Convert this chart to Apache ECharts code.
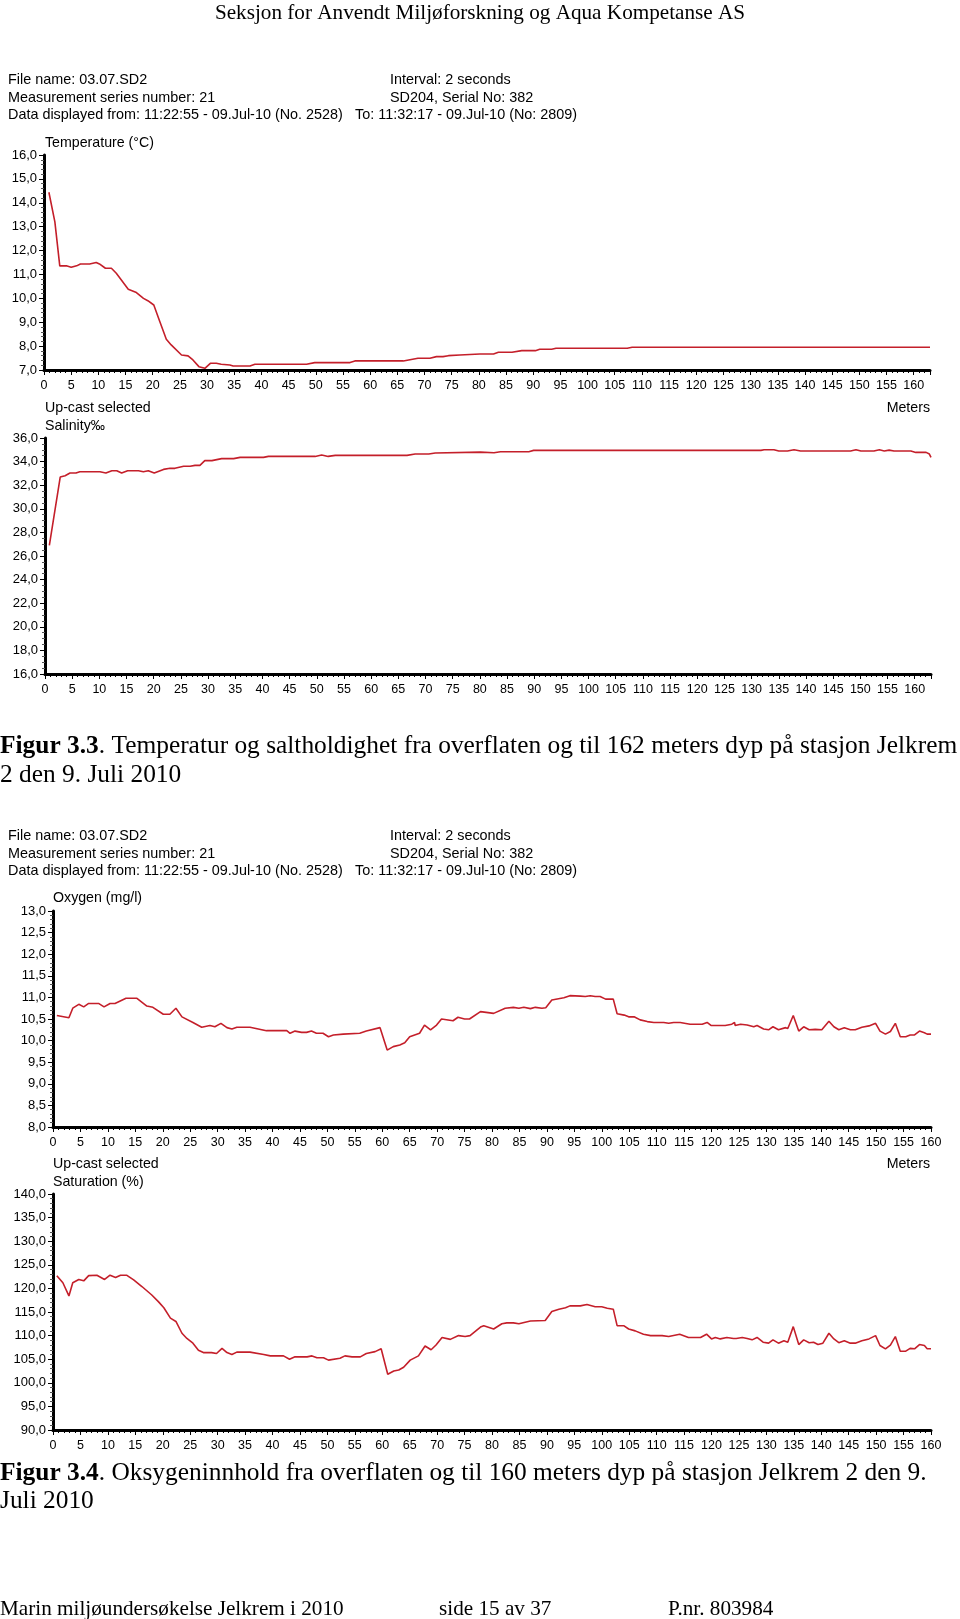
<!DOCTYPE html>
<html>
<head>
<meta charset="utf-8">
<script src="https://cdn.jsdelivr.net/npm/echarts@6/dist/echarts.min.js"></script>
<style>
html,body{margin:0;padding:0;background:#fff;}
#c{width:960px;height:1619px;}
</style>
</head>
<body>
<div id="c"></div>
<script>
// ---------- data ----------
const tempDepth = [0.9,2.0,2.9,4.1,5.0,6.0,6.7,8.4,9.6,10.2,11.3,12.4,13.3,15.5,17.0,18.3,19.1,20.2,21.3,22.5,23.4,25.3,26.5,27.4,28.5,29.6,30.6,31.7,32.6,34.2,34.8,37.9,38.8,48.3,49.8,56.3,57.2,66.1,68.8,71.0,72.2,73.4,74.4,76.5,80.2,82.7,83.6,86.1,87.9,90.4,91.2,93.4,94.2,107.3,108.2,163.0];
const tempValue = [14.44,13.2,11.36,11.36,11.3,11.36,11.44,11.44,11.5,11.44,11.26,11.26,11.05,10.38,10.24,10.0,9.9,9.72,9.03,8.29,8.05,7.63,7.59,7.42,7.14,7.07,7.28,7.28,7.24,7.21,7.17,7.17,7.24,7.24,7.31,7.31,7.38,7.38,7.49,7.49,7.56,7.56,7.6,7.63,7.67,7.67,7.74,7.74,7.81,7.81,7.87,7.87,7.91,7.91,7.95,7.95];

const salDepth = [0.8,2.8,3.7,4.6,5.7,6.4,10.1,11.2,12.3,13.2,14.1,15.2,17.2,18.1,19.0,20.1,21.8,23.0,23.9,25.5,26.7,27.6,28.5,29.4,30.7,32.5,34.7,35.9,40.2,41.1,49.7,50.9,52.1,53.4,66.6,68.1,70.6,71.8,80.1,82.6,83.8,89.0,89.9,131.7,132.3,134.1,135.0,136.6,137.8,139.0,148.2,149.2,150.1,152.5,153.5,154.4,155.3,156.2,159.3,160.2,162.1,162.7,163.0];
const salValue = [26.89,32.69,32.8,33.03,33.03,33.14,33.14,33.03,33.23,33.23,33.03,33.23,33.23,33.14,33.23,33.03,33.34,33.43,33.43,33.6,33.6,33.68,33.68,34.08,34.08,34.25,34.25,34.36,34.36,34.44,34.44,34.56,34.44,34.53,34.53,34.64,34.64,34.73,34.8,34.75,34.84,34.84,34.95,34.95,35.0,35.0,34.9,34.9,35.0,34.9,34.9,35.0,34.9,34.9,35.0,34.9,34.97,34.9,34.9,34.78,34.78,34.64,34.36];

const oxyDepth = [0.7,2.9,3.6,4.7,5.6,6.5,8.3,9.3,10.4,11.3,13.3,15.3,17.1,18.2,20.1,21.3,22.4,23.5,25.5,27.1,28.6,29.5,30.6,31.7,32.6,33.5,35.9,38.9,42.6,43.2,44.1,45.3,46.2,47.1,48.0,49.2,50.2,51.1,52.9,55.9,57.1,59.6,60.9,62.0,63.2,64.1,65.0,66.8,67.7,68.8,69.9,70.8,72.9,73.8,75.0,75.9,77.9,80.3,82.4,83.9,84.9,85.8,87.0,87.9,89.1,89.8,90.9,93.1,94.2,96.1,97.0,97.9,98.8,99.7,100.7,102.1,102.8,104.1,104.9,105.9,107.0,108.3,109.5,111.3,112.2,113.1,114.3,116.1,118.3,119.2,119.9,122.5,123.7,124.2,124.3,125.3,126.5,127.7,128.3,129.5,130.4,131.2,132.2,133.5,133.9,134.9,135.9,136.8,137.8,138.9,140.1,141.4,142.3,143.2,144.2,145.3,146.2,147.4,148.7,149.9,150.7,151.7,152.6,153.5,154.4,155.4,156.2,157.0,157.9,158.8,159.3,160.0];
const oxyValue = [10.58,10.53,10.75,10.84,10.78,10.86,10.86,10.78,10.86,10.86,10.98,10.98,10.8,10.77,10.61,10.61,10.75,10.55,10.42,10.31,10.35,10.32,10.4,10.3,10.27,10.31,10.31,10.23,10.23,10.17,10.22,10.19,10.19,10.22,10.17,10.17,10.09,10.13,10.15,10.17,10.22,10.3,9.78,9.86,9.9,9.95,10.09,10.17,10.36,10.25,10.36,10.5,10.46,10.54,10.5,10.5,10.67,10.63,10.75,10.77,10.75,10.77,10.74,10.77,10.75,10.76,10.94,10.99,11.04,11.03,11.02,11.04,11.02,11.02,10.96,10.96,10.62,10.59,10.55,10.55,10.48,10.44,10.42,10.42,10.4,10.42,10.42,10.38,10.38,10.42,10.35,10.35,10.38,10.42,10.35,10.38,10.36,10.32,10.35,10.27,10.25,10.32,10.25,10.3,10.28,10.58,10.22,10.32,10.25,10.26,10.25,10.45,10.32,10.25,10.3,10.25,10.25,10.31,10.34,10.4,10.22,10.15,10.21,10.4,10.09,10.09,10.13,10.13,10.22,10.18,10.15,10.15];

const satDepth = [0.7,1.8,2.9,3.6,4.7,5.6,6.5,8.0,9.4,10.4,11.4,12.3,13.4,14.7,16.2,18.0,19.2,20.2,21.4,22.4,23.5,24.4,25.5,26.5,27.4,28.9,29.8,30.8,31.7,32.6,33.5,35.9,38.4,39.6,42.0,43.1,44.1,46.3,47.2,48.1,49.3,50.2,52.3,53.2,54.5,56.0,57.1,58.7,59.8,61.0,62.1,63.0,63.9,65.1,66.6,67.8,68.9,69.8,70.9,72.4,73.9,75.1,76.0,77.9,78.5,80.3,81.8,82.7,83.9,84.9,87.0,89.7,90.9,92.2,93.4,94.2,96.1,97.3,98.8,100.0,101.0,102.1,102.8,104.0,104.9,106.1,107.6,108.9,111.0,112.2,114.2,115.8,118.0,119.1,120.0,120.7,121.6,122.8,124.0,124.2,124.5,125.6,126.5,127.4,128.3,129.4,130.4,131.2,132.2,133.2,133.9,134.9,135.9,136.8,137.8,138.6,139.4,140.3,141.4,142.3,143.2,144.2,145.3,146.2,147.4,148.7,149.9,150.7,151.7,152.6,153.5,154.4,155.4,156.2,157.0,157.9,158.8,159.3,160.0];
const satValue = [122.7,121.2,118.4,121.2,121.9,121.6,122.7,122.8,121.9,122.8,122.3,122.8,122.8,121.8,120.4,118.6,117.2,115.9,113.7,113.0,110.5,109.4,108.4,106.9,106.4,106.4,106.2,107.3,106.4,106.0,106.5,106.5,106.0,105.7,105.7,105.0,105.5,105.5,105.7,105.3,105.3,104.8,105.2,105.7,105.5,105.5,106.2,106.6,107.2,101.8,102.5,102.7,103.3,104.8,105.7,107.8,107.0,108.0,109.6,109.2,110.0,109.8,110.0,111.8,112.1,111.4,112.5,112.7,112.7,112.5,113.1,113.2,115.1,115.6,115.9,116.3,116.3,116.6,116.1,116.1,115.8,115.6,112.1,112.1,111.4,111.0,110.3,110.0,110.0,109.8,110.3,109.6,109.6,110.3,109.3,109.6,109.3,109.6,109.4,109.8,109.4,109.6,109.4,109.1,109.6,108.6,108.4,109.1,108.4,108.9,108.6,111.9,108.1,109.1,108.5,108.6,108.1,108.4,110.5,109.3,108.5,108.9,108.4,108.4,108.9,109.3,110.0,107.9,107.2,108.0,109.8,106.7,106.7,107.3,107.2,108.1,107.9,107.2,107.2];

// axis ranges / ticks
const tempY = {min: 7, max: 16, interval: 1};
const salY = {min: 16, max: 36, interval: 2};
const oxyY = {min: 8, max: 13, interval: 0.5};
const satY = {min: 90, max: 140, interval: 5};
const depthTicks = {min: 0, interval: 5};

// texts
const headerText = 'Seksjon for Anvendt Miljøforskning og Aqua Kompetanse AS';
const infoLeft = ['File name: 03.07.SD2', 'Measurement series number: 21', 'Data displayed from: 11:22:55 - 09.Jul-10 (No. 2528)'];
const infoRight = ['Interval: 2 seconds', 'SD204, Serial No: 382', 'To: 11:32:17 - 09.Jul-10 (No: 2809)'];
const caption1 = ['Figur 3.3', '. Temperatur og saltholdighet fra overflaten og til 162 meters dyp på stasjon Jelkrem', '2 den 9. Juli 2010'];
const caption2 = ['Figur 3.4', '. Oksygeninnhold fra overflaten og til 160 meters dyp på stasjon Jelkrem 2 den 9.', 'Juli 2010'];
const footer = ['Marin miljøundersøkelse Jelkrem i 2010', 'side 15 av 37', 'P.nr. 803984'];

// ---------- chart ----------
const chart = echarts.init(document.getElementById('c'), null, {renderer: 'canvas'});
const SANS = 'Liberation Sans, Arial, sans-serif';
const SERIF = 'Liberation Serif, Times New Roman, serif';
const RED = '#c41f2a';

function pair(d, v) { return d.map((x, i) => [x, v[i]]); }
const fmt = v => v.toFixed(1).replace('.', ',');

const grids = [
  {left: 44, top: 155, width: 886, height: 215},
  {left: 45, top: 438, width: 886, height: 236},
  {left: 53, top: 911, width: 878, height: 216},
  {left: 53, top: 1194, width: 878, height: 236}
];
const xMax = [163, 163, 160, 160];
const yDefs = [tempY, salY, oxyY, satY];
const yMinor = [5, 4, 5, 5];

const xAxes = grids.map((g, i) => ({
  type: 'value', gridIndex: i, min: depthTicks.min, max: xMax[i], interval: depthTicks.interval,
  axisLine: {lineStyle: {color: '#000', width: 3}},
  axisTick: {show: true, length: 5, inside: false, lineStyle: {color: '#000', width: 1}},
  minorTick: {show: true, splitNumber: 5, length: 3, lineStyle: {color: '#000', width: 1}},
  splitLine: {show: false},
  axisLabel: {color: '#000', fontFamily: SANS, fontSize: 12.5, margin: 9, showMaxLabel: xMax[i] === 160, showMinLabel: true}
}));
const yAxes = grids.map((g, i) => ({
  type: 'value', gridIndex: i, min: yDefs[i].min, max: yDefs[i].max, interval: yDefs[i].interval,
  axisLine: {show: true, lineStyle: {color: '#000', width: 3}},
  axisTick: {show: true, length: 5, lineStyle: {color: '#000', width: 1}},
  minorTick: {show: true, splitNumber: yMinor[i], length: 3, lineStyle: {color: '#555', width: 1}},
  splitLine: {show: false},
  axisLabel: {color: '#000', fontFamily: SANS, fontSize: 13, margin: 7, formatter: fmt}
}));

const series = [
  pair(tempDepth, tempValue), pair(salDepth, salValue), pair(oxyDepth, oxyValue), pair(satDepth, satValue)
].map((d, i) => ({
  type: 'line', xAxisIndex: i, yAxisIndex: i, data: d, showSymbol: false, animation: false,
  lineStyle: {color: RED, width: 1.6}, silent: true
}));

function txt(x, y, text, size, family, extra) {
  return {type: 'text', x: x, y: y, silent: true,
    style: Object.assign({text: text, fontSize: size, fontFamily: family, fill: '#000', textVerticalAlign: 'middle'}, extra || {})};
}

const g = [];
g.push(txt(480, 13, headerText, 21.2, SERIF, {textAlign: 'center'}));
[[80.5, 98, 115.5], [836, 854, 871]].forEach(ys => {
  ys.forEach((y, k) => {
    g.push(txt(8, y, infoLeft[k], 14.4, SANS));
  });
  g.push(txt(390, ys[0], infoRight[0], 14.4, SANS));
  g.push(txt(390, ys[1], infoRight[1], 14.4, SANS));
  g.push(txt(355, ys[2], infoRight[2], 14.4, SANS));
});
g.push(txt(45, 143, 'Temperature (°C)', 14.2, SANS));
g.push(txt(45, 408, 'Up-cast selected', 14.2, SANS));
g.push(txt(45, 426, 'Salinity‰', 14.2, SANS));
g.push(txt(930, 408, 'Meters', 14.2, SANS, {textAlign: 'right'}));
g.push(txt(53, 898, 'Oxygen (mg/l)', 14.2, SANS));
g.push(txt(53, 1164, 'Up-cast selected', 14.2, SANS));
g.push(txt(53, 1182, 'Saturation (%)', 14.2, SANS));
g.push(txt(930, 1164, 'Meters', 14.2, SANS, {textAlign: 'right'}));

const CAP = 25.4;
function caption(y1, y2, parts) {
  g.push({type: 'text', x: 0, y: y1, silent: true, style: {
    text: '{b|' + parts[0] + '}{r|' + parts[1] + '}', fontSize: CAP, fontFamily: SERIF, fill: '#000', textVerticalAlign: 'middle',
    rich: {b: {fontWeight: 'bold', fontSize: CAP, fontFamily: SERIF}, r: {fontSize: CAP, fontFamily: SERIF}}
  }});
  g.push(txt(0, y2, parts[2], CAP, SERIF));
}
caption(746, 775, caption1);
caption(1473, 1501, caption2);

g.push(txt(0, 1609, footer[0], 21.2, SERIF));
g.push(txt(439, 1609, footer[1], 21.2, SERIF));
g.push(txt(668, 1609, footer[2], 21.2, SERIF));

chart.setOption({
  animation: false,
  backgroundColor: '#fff',
  grid: grids.map(gr => Object.assign({containLabel: false}, gr)),
  xAxis: xAxes,
  yAxis: yAxes,
  series: series,
  graphic: g
});
</script>
</body>
</html>
